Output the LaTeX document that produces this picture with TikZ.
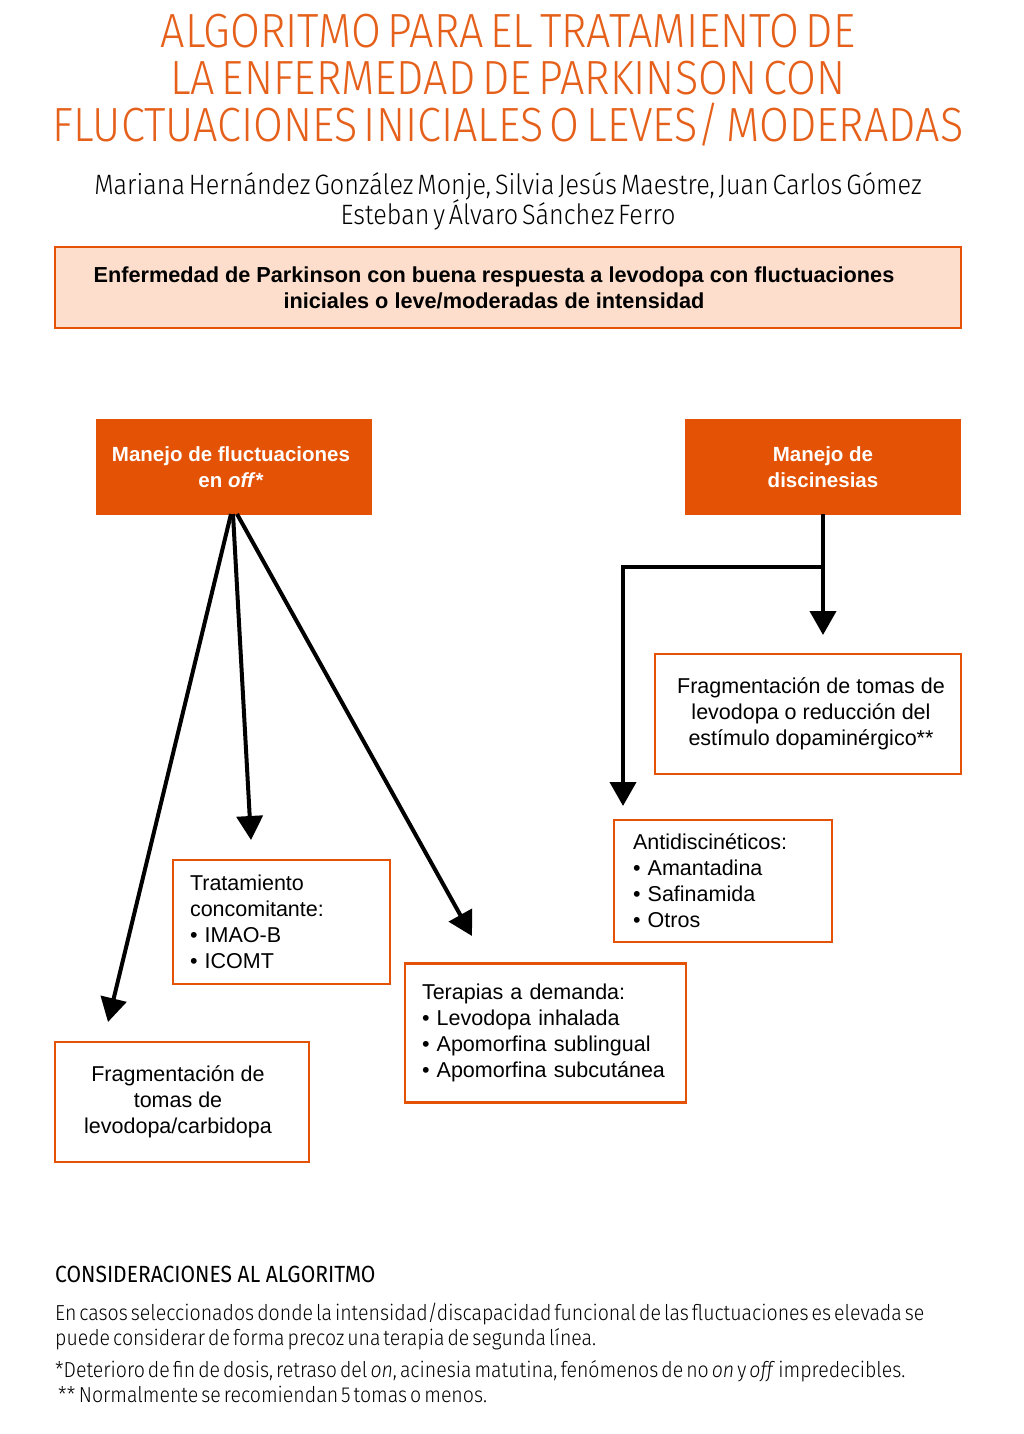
\documentclass[tikz,border=0pt]{standalone}
\usepackage{fontspec}
\setmainfont{Liberation Sans}
\newfontfamily\condfont{Fira Sans Light}[FakeStretch=0.90]
\newfontfamily\titlefont{Fira Sans Light}[FakeStretch=0.90, WordSpace=0.55]
\newfontfamily\condreg{Fira Sans}[FakeStretch=0.90]
\usetikzlibrary{arrows.meta}
\definecolor{orng}{HTML}{E35205}
\definecolor{ttl}{HTML}{E5601A}
\definecolor{peach}{HTML}{FDDDCB}
\begin{document}
\begin{tikzpicture}[x=1pt,y=-1pt,
  box/.style={draw=orng, line width=2.5pt, fill=white, inner ysep=0pt,
    font=\fontsize{21.5}{26}\selectfont},
  headbox/.style={draw=orng, line width=2.5pt, fill=orng, text=white,
    font=\bfseries\fontsize{20.5}{26}\selectfont, align=center},
  conn/.style={line width=4pt, -{Triangle[length=24pt,width=26pt]}},
  titl/.style={anchor=base, inner sep=0pt, text=ttl, font=\titlefont\fontsize{48}{47}\selectfont},
  auth/.style={anchor=base, inner sep=0pt, font=\condfont\fontsize{28}{30}\selectfont},
  foot/.style={anchor=base west, inner sep=0pt, font=\condfont\fontsize{21.7}{25}\selectfont}
]
\useasboundingbox[fill=white] (0,0) rectangle (1024,1434);

% title
\node[titl] (t1) at (508,48) {ALGORITMO PARA EL TRATAMIENTO DE};
\node[titl] (t2) at (508,95) {LA ENFERMEDAD DE PARKINSON CON};
\node[titl] (t3) at (508,142) {FLUCTUACIONES INICIALES O LEVES/ MODERADAS};

% authors
\node[auth] (a1) at (508,194) {Mariana Hernández González Monje, Silvia Jesús Maestre, Juan Carlos Gómez};
\node[auth] (a2) at (508,224) {Esteban y Álvaro Sánchez Ferro};

% header box
\node[draw=orng, line width=2.5pt, fill=peach, minimum width=906pt, minimum height=81pt, inner sep=0pt] (hdr) at (508,287.5) {};
\node[align=center, inner sep=0pt, font=\bfseries\fontsize{21.7}{26}\selectfont] (hdrtxt) at (494,288) {Enfermedad de Parkinson con buena respuesta a levodopa con fluctuaciones\\iniciales o leve/moderadas de intensidad};

% orange boxes
\node[headbox, minimum width=274pt, minimum height=94pt, inner sep=0pt] (off) at (234,467) {};
\node[align=center, inner sep=0pt, text=white, font=\bfseries\fontsize{20.5}{26}\selectfont] (offtxt) at (231,467) {Manejo de fluctuaciones\\en \textit{off}*};
\node[headbox, minimum width=274pt, minimum height=94pt, inner sep=0pt] (dis) at (823,467) {Manejo de\\discinesias};

% result boxes
\node[box, minimum width=217pt, minimum height=124pt, inner xsep=17pt, text width=183pt, align=left] (trat) at (281.5,922) {Tratamiento\\concomitante:\\• IMAO-B\\• ICOMT};
\node[box, minimum width=281pt, minimum height=139pt, inner xsep=17pt, text width=247pt, align=left] (ter) at (545.5,1033) {Terapias a demanda:\\• Levodopa inhalada\\• Apomorfina sublingual\\• Apomorfina subcutánea};
\node[box, minimum width=254pt, minimum height=120pt] (frag) at (182,1102) {};
\node[align=center, inner sep=0pt, font=\fontsize{21.5}{26}\selectfont] (fragtxt) at (178,1102) {Fragmentación de\\tomas de\\levodopa/carbidopa};
\node[box, minimum width=306pt, minimum height=120pt] (fragr) at (808,714) {};
\node[align=center, inner sep=0pt, font=\fontsize{21.5}{26}\selectfont] (fragrtxt) at (811,714) {Fragmentación de tomas de\\levodopa o reducción del\\estímulo dopaminérgico**};
\node[box, minimum width=218pt, minimum height=122pt, inner xsep=19pt, text width=180pt, align=left] (anti) at (723,881) {Antidiscinéticos:\\• Amantadina\\• Safinamida\\• Otros};

% connectors
\coordinate (s1) at (231,514);
\coordinate (s2) at (233,514);
\coordinate (s3) at (237,514);
\coordinate (e1) at (108,1022);
\coordinate (e2) at (251,840);
\coordinate (e3) at (472,936);
\draw[conn] (s1) -- (e1);
\draw[conn] (s2) -- (e2);
\draw[conn] (s3) -- (e3);

\coordinate (d0) at (823,514);
\coordinate (dj) at (823,567);
\coordinate (dl) at (623,567);
\coordinate (de1) at (823,635);
\coordinate (de2) at (623,806);
\draw[conn] (d0) -- (de1);
\draw[conn, line join=miter] (dj) -- (dl) -- (de2);

% footer
\node[anchor=base west, inner sep=0pt, font=\condreg\fontsize{23.4}{25}\selectfont] (ch) at (55,1282) {CONSIDERACIONES AL ALGORITMO};
\node[foot] (p1) at (55,1320) {En casos seleccionados donde la intensidad/discapacidad funcional de las fluctuaciones es elevada se};
\node[foot] (p2) at (55,1345) {puede considerar de forma precoz una terapia de segunda línea.};
\node[foot] (f1) at (55,1377) {*Deterioro de fin de dosis, retraso del \textit{on}, acinesia matutina, fenómenos de no \textit{on} y \textit{off} impredecibles.};
\node[foot] (f2) at (58,1402) {**\,Normalmente se recomiendan 5 tomas o menos.};
\end{tikzpicture}
\end{document}
